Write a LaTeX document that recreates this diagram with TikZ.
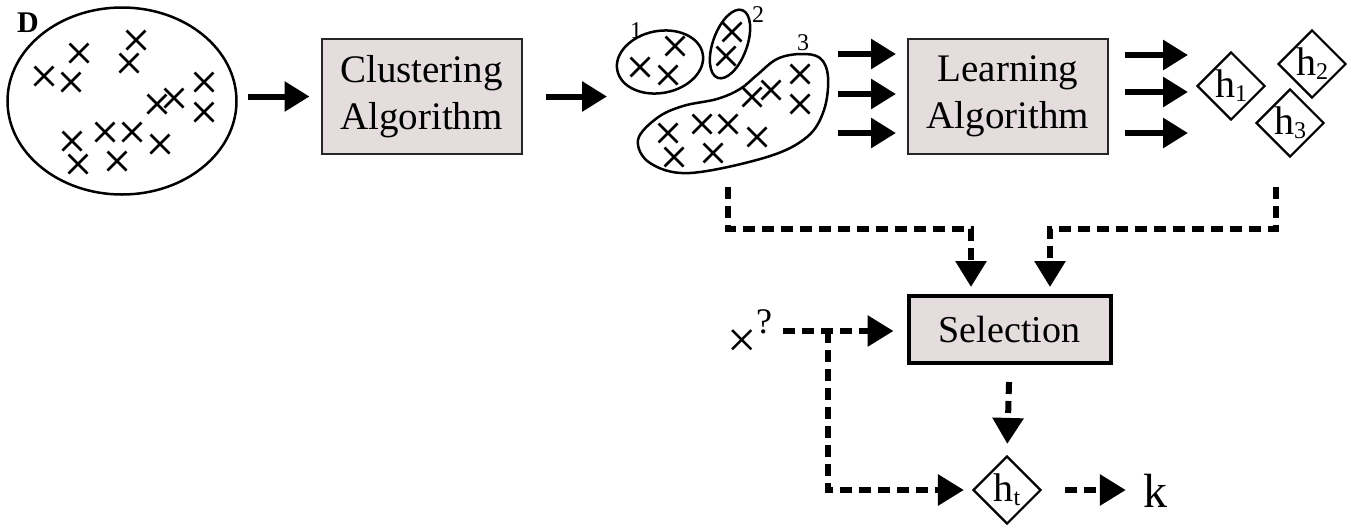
\documentclass[tikz,border=0pt]{standalone}
\usepackage{fontspec}
\setmainfont{Liberation Serif}
\usetikzlibrary{arrows.meta,shapes.geometric}
\definecolor{boxfill}{HTML}{E4DCDD}
\begin{document}
\begin{tikzpicture}[x=1pt,y=-1pt,
  procbox/.style={draw=black!85, line width=2pt, fill=boxfill, minimum width=200pt, minimum height=115pt, align=center, font=\fontsize{39}{47}\selectfont, inner sep=0pt},
  hyp/.style={draw, diamond, line width=2.2pt, minimum width=68pt, minimum height=68pt, inner sep=0pt},
  crs/.style={line width=2.6pt},
  grp/.style={line width=2.5pt},
  solarr/.style={line width=6pt, -{Triangle[length=25pt,width=29pt]}},
  dasharr/.style={line width=6pt, dash pattern=on 12pt off 7pt, -{Triangle[length=26pt,width=30pt]}},
  lbl/.style={font=\fontsize{24}{24}\selectfont, inner sep=0pt}
]
\useasboundingbox (0,0) rectangle (1359,528);

% data set D
\node[draw, ellipse, line width=2.5pt, minimum width=229pt, minimum height=187pt] (D) at (122,101) {};
\node[font=\fontsize{30}{30}\selectfont\bfseries, inner sep=0pt] (Dlab) at (28,23) {D};
\foreach \x/\y in {44/76,79/53,71/82,136/40,129/63,157/104,174/98,204/82,204/112,72/141,105/132,132/132,160/144,78/164,117/161}
  \draw[crs] (\x,\y) +(-9.5,-9.5) -- +(9.5,9.5) +(-9.5,9.5) -- +(9.5,-9.5);

% boxes
\node[procbox] (clust) at (421.5,96.5) {Clustering\\Algorithm};
\node[procbox] (learn) at (1008,96.5) {Learning\\Algorithm};
\node[procbox, line width=4pt, draw=black, minimum width=202pt, minimum height=67pt, font=\fontsize{38}{44}\selectfont] (sel) at (1009.5,329.5) {Selection};

% clusters
\draw[grp, rotate around={11:(660,62)}] (660,62) ellipse [x radius=43.5, y radius=31];
\draw[grp, rotate around={70:(730,44)}] (730,44) ellipse [x radius=36, y radius=17];
\draw[grp] plot[smooth cycle, tension=0.6] coordinates {(638,140) (657,118) (683,106) (717,99) (740,89) (757,75) (777,59) (800,54) (820,58) (828,77) (824,110) (807,137) (767,157) (690,173) (650,163)};
\foreach \x/\y in {675/46,640/67,668/75,732/32,726/56,800/74,800/104,771/90,752/97,702/124,728/124,757/137,668/133,674/157,713/153}
  \draw[crs] (\x,\y) +(-9.5,-9.5) -- +(9.5,9.5) +(-9.5,9.5) -- +(9.5,-9.5);
\node[lbl] (l1) at (636,31) {1};
\node[lbl] (l2) at (758,15) {2};
\node[lbl] (l3) at (803,43) {3};

% hypotheses
\node[hyp] (h1) at (1231,86) {\fontsize{40}{40}\selectfont h\raisebox{-4pt}{\fontsize{24}{24}\selectfont 1}};
\node[hyp] (h2) at (1312,64) {\fontsize{40}{40}\selectfont h\raisebox{-4pt}{\fontsize{24}{24}\selectfont 2}};
\node[hyp] (h3) at (1290,123) {\fontsize{40}{40}\selectfont h\raisebox{-4pt}{\fontsize{24}{24}\selectfont 3}};
\node[hyp] (ht) at (1007,490) {\fontsize{40}{40}\selectfont h\raisebox{-4pt}{\fontsize{24}{24}\selectfont t}};

% query and output
\node[font=\fontsize{52}{52}\selectfont, inner sep=0pt, anchor=base] (xq) at (742,357) {×};
\node[font=\fontsize{36}{36}\selectfont, inner sep=0pt, anchor=base] (q) at (764,333) {?};
\node[font=\fontsize{48}{48}\selectfont, inner sep=0pt, anchor=base] (k) at (1155,507) {k};

% coordinates
\coordinate (cin) at (618,96.5);
\coordinate (a1) at (838,54);
\coordinate (a2) at (838,94);
\coordinate (a3) at (838,133);
\coordinate (b1) at (1188,55);
\coordinate (b2) at (1188,92);
\coordinate (b3) at (1188,133);
\coordinate (c3b) at (728,187);
\coordinate (h3b) at (1276,187);
\coordinate (xs) at (783,331);
\coordinate (br) at (828,331);

% solid arrows
\draw[solarr, shorten <=10pt, shorten >=11pt] (D.east |- clust.west) -- (clust.west);
\draw[solarr, shorten <=23pt] (clust.east) -- ([xshift=-11pt]cin);
\foreach \a in {a1,a2,a3}
  \draw[solarr, shorten >=11pt] (\a) -- (learn.west |- \a);
\foreach \b in {b1,b2,b3}
  \draw[solarr, shorten <=16pt] (learn.east |- \b) -- (\b);

% dashed arrows
\draw[dasharr, shorten >=7pt] (c3b) -- ++(0,42) -| ([xshift=-38.5pt]sel.north);
\draw[dasharr, shorten >=7pt] (h3b) -- ++(0,42) -| ([xshift=40.5pt]sel.north);
\draw[dasharr, shorten >=13pt] (xs) -- (sel.west |- xs);
\draw[dasharr, shorten >=8pt] (br) |- (ht.west);
\draw[dasharr, shorten <=17pt, shorten >=11pt] (sel.south) -- (ht.north);
\draw[dasharr, shorten <=23pt, shorten >=17pt] (ht.east) -- (k.west |- ht.east);
\end{tikzpicture}
\end{document}
